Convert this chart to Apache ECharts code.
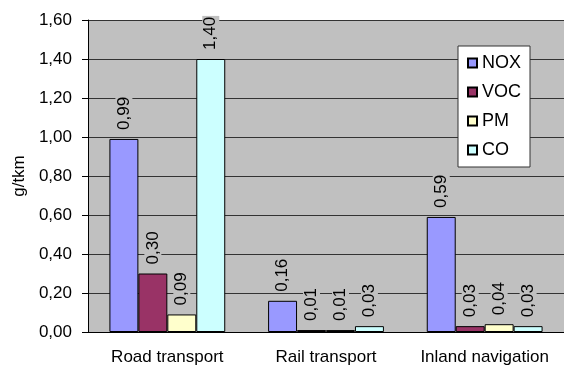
<!DOCTYPE html>
<html>
<head>
<meta charset="utf-8">
<script src="https://cdn.jsdelivr.net/npm/echarts@6/dist/echarts.min.js"></script>
<style>
  html, body { margin: 0; padding: 0; background: #fff; }
  #chart { width: 564px; height: 368px; }
</style>
</head>
<body>
<div id="chart"></div>
<script>
// data
var categories = ['Road transport', 'Rail transport', 'Inland navigation'];
var nox = [0.99, 0.16, 0.59];
var voc = [0.30, 0.01, 0.03];
var pm = [0.09, 0.01, 0.04];
var co = [1.40, 0.03, 0.03];
var yTicks = [0, 0.2, 0.4, 0.6, 0.8, 1.0, 1.2, 1.4, 1.6];

var font = 'Liberation Sans, Arial, sans-serif';

function comma(v) {
  return v.toFixed(2).replace('.', ',');
}

function makeSeries(name, data, color) {
  return {
    name: name,
    type: 'bar',
    data: data,
    barGap: 0,
    barCategoryGap: '27%',
    itemStyle: { color: color, borderColor: '#000', borderWidth: 1 },
    label: {
      show: true,
      position: 'top',
      rotate: 90,
      align: 'left',
      verticalAlign: 'middle',
      distance: 8,
      color: '#000',
      fontFamily: font,
      fontSize: 17,
      backgroundColor: '#c0c0c0',
      padding: [0, 1],
      formatter: function (p) { return comma(p.value); }
    }
  };
}

var chart = echarts.init(document.getElementById('chart'));
chart.setOption({
  animation: false,
  grid: {
    left: 88, top: 20, width: 487, height: 312,
    show: true, backgroundColor: '#c0c0c0', borderWidth: 0
  },
  legend: {
    orient: 'vertical',
    left: 458, top: 46,
    backgroundColor: '#fff',
    borderColor: '#333',
    borderWidth: 1,
    borderRadius: 0,
    padding: [8, 9, 8, 9],
    itemWidth: 9, itemHeight: 9,
    itemGap: 11,
    icon: 'rect',
    textStyle: { fontFamily: font, fontSize: 18, color: '#000' },
    data: ['NOX', 'VOC', 'PM', 'CO']
  },
  xAxis: {
    type: 'category',
    data: categories,
    axisLine: { lineStyle: { color: '#000' } },
    axisTick: { length: 6, lineStyle: { color: '#000' } },
    axisLabel: { interval: 0, color: '#000', fontFamily: font, fontSize: 17, margin: 17 }
  },
  yAxis: {
    type: 'value',
    min: yTicks[0],
    max: yTicks[yTicks.length - 1],
    interval: 0.2,
    name: 'g/tkm',
    nameLocation: 'middle',
    nameGap: 54,
    nameTextStyle: { fontFamily: font, fontSize: 17, color: '#000' },
    axisLine: { show: true, lineStyle: { color: '#000' } },
    axisTick: { show: true, length: 6, lineStyle: { color: '#000' } },
    axisLabel: { color: '#000', fontFamily: font, fontSize: 17, margin: 16, formatter: comma },
    splitLine: { lineStyle: { color: '#333', width: 1 } }
  },
  series: [
    makeSeries('NOX', nox, '#9999ff'),
    makeSeries('VOC', voc, '#993366'),
    makeSeries('PM', pm, '#ffffcc'),
    makeSeries('CO', co, '#ccffff')
  ]
});
</script>
</body>
</html>
